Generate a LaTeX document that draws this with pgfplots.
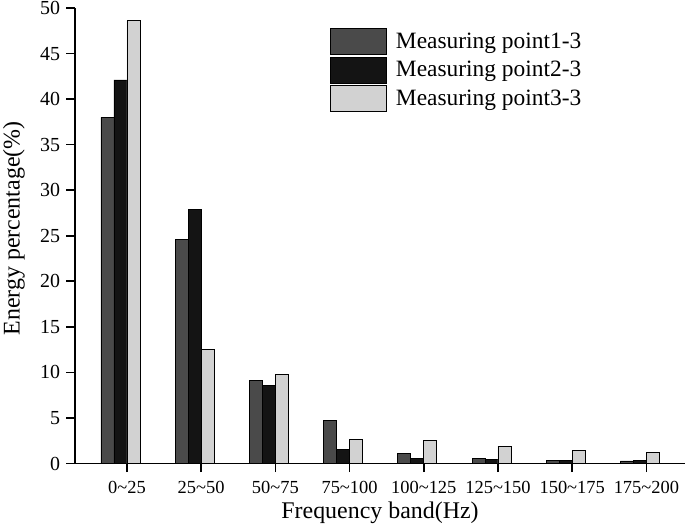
\documentclass[border=0pt]{standalone}
\usepackage{pgfplots}
\pgfplotsset{compat=1.18}
\usepackage{fontspec}
\setmainfont{Liberation Serif}
\definecolor{cA}{HTML}{4A4A4A}
\definecolor{cB}{HTML}{141414}
\definecolor{cC}{HTML}{D2D2D2}
\pgfplotsset{
  mybar/.style={ybar, bar width=0.175, draw=black, line width=0.8bp,
    legend image code/.code={\draw[##1, line width=0.8bp] (0bp,-13bp) rectangle (56bp,13bp);}},
}
\begin{document}
\begin{tikzpicture}
\path[use as bounding box] (-75bp,-63.5bp) rectangle (610bp,463.5bp);
\begin{axis}[
  scale only axis, width=610bp, height=455.5bp,
  xmin=-0.7, xmax=7.52, ymin=0, ymax=50,
  enlargelimits=false,
  axis x line=bottom, axis y line=left,
  axis line style={-, line width=1.6bp, black},
  tick align=outside, major tick length=8.5bp,
  tick style={line width=1.6bp, black},
  xtick={0,...,7},
  xticklabels={0\textasciitilde 25,25\textasciitilde 50,50\textasciitilde 75,75\textasciitilde 100,100\textasciitilde 125,125\textasciitilde 150,150\textasciitilde 175,175\textasciitilde 200},
  ytick={0,5,...,50},
  /pgf/number format/assume math mode=true,
  xticklabel style={font=\fontsize{18.5}{18.5}\selectfont, yshift=-6bp},
  yticklabel style={font=\fontsize{20}{20}\selectfont, xshift=-3bp},
  xlabel={Frequency band(Hz)},
  ylabel={Energy percentage(\%)},
  label style={font=\fontsize{24}{24}\selectfont},
  xlabel style={at={(axis description cs:0.5,-0.1075)}, anchor=center},
  ylabel style={at={(axis description cs:-0.1,0.516)}, anchor=center},
  legend style={at={(axis description cs:0.418,0.956)}, anchor=north west,
    draw=none, fill=none, inner sep=0pt, row sep=1.5bp, column sep=9bp,
    font=\fontsize{23.5}{23.5}\selectfont, nodes={inner sep=0pt}},
  legend cell align=left,
]
\addplot[mybar, bar shift=-0.2625, fill=cA] coordinates {
 (0,38.0) (1,24.6) (2,9.15) (3,4.75) (4,1.1) (5,0.6) (6,0.38) (7,0.28)};
\addplot[mybar, bar shift=-0.0875, fill=cB] coordinates {
 (0,42.1) (1,27.9) (2,8.6) (3,1.56) (4,0.55) (5,0.45) (6,0.3) (7,0.35)};
\addplot[mybar, bar shift=0.0875, fill=cC] coordinates {
 (0,48.6) (1,12.5) (2,9.8) (3,2.66) (4,2.5) (5,1.9) (6,1.45) (7,1.26)};
\legend{Measuring point1-3,Measuring point2-3,Measuring point3-3}
\end{axis}
\end{tikzpicture}
\end{document}
